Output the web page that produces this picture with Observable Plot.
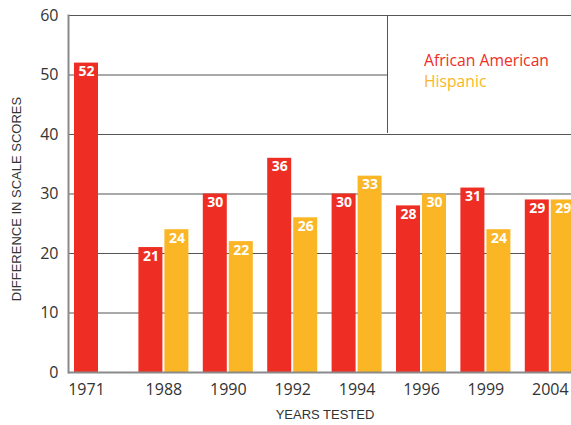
<!DOCTYPE html>
<html>
<head>
<meta charset="utf-8">
<script src="https://cdn.jsdelivr.net/npm/d3@7"></script>
<script src="https://cdn.jsdelivr.net/npm/@observablehq/plot@0.6"></script>
<style>
  html, body { margin: 0; padding: 0; background: white; overflow: hidden; }
  #wrap { position: relative; width: 571px; height: 425px; }
  #legend {
    position: absolute; left: 387px; top: 16px; width: 184px; height: 117px;
    background: white; border-left: 1.5px solid #555; box-sizing: border-box;
    padding: 34px 0 0 36px; font-family: "Open Sans", sans-serif; font-size: 15.7px; line-height: 21px;
  }
</style>
</head>
<body>
<div id="wrap"></div>
<script>
const years = ["1971", "1988", "1990", "1992", "1994", "1996", "1999", "2004"];
const africanAmerican = [52, 21, 30, 36, 30, 28, 31, 29];
const hispanic = [null, 24, 22, 26, 33, 30, 24, 29];
const seriesNames = ["African American", "Hispanic"];
const yTicks = [0, 10, 20, 30, 40, 50, 60];
const gridValues = [10, 20, 30, 40, 50, 60];
const RED = "#ee2e24";
const YEL = "#fbb626";

const rows = years.map((year, i) => ({ year, aa: africanAmerican[i], hisp: hispanic[i] }));
const withHisp = rows.filter(d => d.hisp != null);
const withoutHisp = rows.filter(d => d.hisp == null);

const chart = Plot.plot({
  width: 571, height: 425,
  marginLeft: 68, marginRight: 0, marginTop: 15, marginBottom: 53,
  style: { fontFamily: "'Open Sans', sans-serif", fontSize: "16px", color: "#333", background: "white" },
  x: { domain: years, range: [74, 574.8], paddingInner: 14.4 / 64.4, paddingOuter: 0, round: false, axis: null },
  y: { domain: [0, 60], axis: null },
  marks: [
    Plot.ruleY(gridValues, { stroke: "#555", strokeWidth: 1 }),
    Plot.barY(rows, { x: "year", y: "aa", fill: RED, insetRight: 26 }),
    Plot.barY(withHisp, { x: "year", y: "hisp", fill: YEL, insetLeft: 26 }),
    Plot.ruleY([0], { stroke: "#8a8a8a", strokeWidth: 2 }),
    Plot.frame({ anchor: "left", stroke: "#8a8a8a", strokeWidth: 2 }),
    Plot.axisY(yTicks, { tickSize: 0, tickPadding: 10, fontSize: 16, label: null }),
    Plot.text(rows, { x: "year", y: "aa", text: "aa", dx: -13, dy: 8.5, fill: "white", fontWeight: "bold", fontSize: 14 }),
    Plot.text(withHisp, { x: "year", y: "hisp", text: "hisp", dx: 13, dy: 8.5, fill: "white", fontWeight: "bold", fontSize: 14 }),
    Plot.text(withHisp, { x: "year", text: "year", frameAnchor: "bottom", dy: 22, fontSize: 16 }),
    Plot.text(withoutHisp, { x: "year", text: "year", frameAnchor: "bottom", dy: 22, dx: -13, fontSize: 16 }),
    Plot.text(["YEARS TESTED"], { frameAnchor: "bottom", dy: 46.5, dx: 5, fontSize: 13, fontFamily: "'Liberation Sans', sans-serif" }),
    Plot.text(["DIFFERENCE IN SCALE SCORES"], { frameAnchor: "left", textAnchor: "middle", rotate: -90, dx: -52, dy: 5, fontSize: 13, fontFamily: "'Liberation Sans', sans-serif" })
  ]
});

const wrap = document.getElementById("wrap");
wrap.appendChild(chart);
const legend = document.createElement("div");
legend.id = "legend";
const colors = [RED, YEL];
seriesNames.forEach((name, i) => {
  const row = document.createElement("div");
  row.textContent = name;
  row.style.color = colors[i];
  legend.appendChild(row);
});
wrap.appendChild(legend);
</script>
</body>
</html>
